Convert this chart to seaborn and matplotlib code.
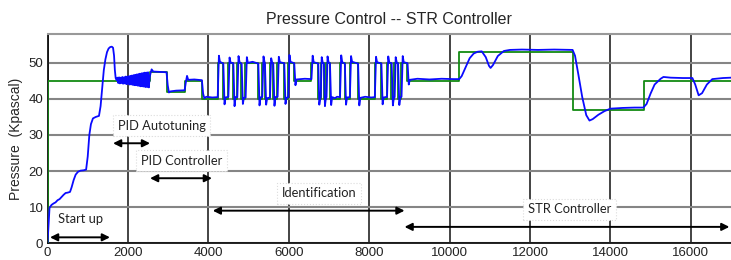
import matplotlib
matplotlib.use("Agg")
import matplotlib.pyplot as plt
import seaborn as sns
import pandas as pd

# ---------------- data ----------------
# measured pressure (blue)
startup_t = [0, 20, 50, 100, 150, 200, 250, 300, 350, 400, 450, 500, 560, 600, 650, 700, 760, 820, 900, 960,
             1000, 1040, 1080, 1130, 1200, 1280, 1320, 1360, 1400, 1440, 1480, 1520, 1560, 1600, 1630, 1655,
             1675, 1695, 1720]
startup_y = [0, 4, 9.8, 10.6, 11.0, 11.3, 11.9, 12.2, 12.8, 13.4, 13.9, 14.0, 14.2, 15.5, 17.5, 19.0, 19.8,
             20.1, 20.2, 20.4, 24, 30, 33, 34.6, 35.0, 35.3, 38, 43, 48, 51, 53, 54, 54.4, 54.5, 54.2, 52,
             48, 45.8, 45.2]

autotune_t = [1740, 1760, 1780, 1800, 1820, 1840, 1860, 1880, 1900, 1920, 1940, 1960, 1980, 2000, 2020,
              2040, 2060, 2080, 2100, 2120, 2140, 2160, 2180, 2200, 2220, 2240, 2260, 2280, 2300, 2320,
              2340, 2360, 2380, 2400, 2420, 2440, 2460, 2480, 2500, 2520, 2540]
autotune_y = [45.9, 44.4, 46.0, 44.3, 45.9, 44.4, 46.1, 44.2, 46.0, 44.3, 46.2, 44.1, 46.2, 44.2, 46.3,
              44.0, 46.4, 44.0, 46.5, 43.9, 46.6, 43.8, 46.7, 43.8, 46.8, 43.7, 46.9, 43.6, 47.0, 43.5,
              47.1, 43.5, 47.2, 43.4, 47.3, 43.3, 47.3, 43.3, 47.4, 43.2, 46.0]

pid_t = [2560, 2590, 2630, 2800, 2960, 2990, 3020, 3060, 3200, 3410, 3440, 3470, 3500, 3650, 3840, 3870,
         3900, 3950, 4100, 4222]
pid_y = [47.0, 48.2, 47.6, 47.5, 47.4, 43.8, 41.8, 42.1, 42.3, 42.4, 44.6, 46.4, 45.3, 45.4, 45.2, 41.5,
         40.2, 40.6, 40.4, 40.5]

ident_t = [4233, 4263, 4288, 4373, 4403, 4428, 4498, 4528, 4553, 4622, 4652, 4677, 4721, 4751, 4776,
           4829, 4859, 4884, 4928, 4958, 4983, 5100, 5243, 5273, 5298, 5342, 5372, 5397, 5408, 5438,
           5463, 5533, 5563, 5588, 5615, 5645, 5670, 5723, 5753, 5778, 5889, 5919, 5944, 5988, 6018,
           6043, 6137, 6167, 6192, 6400, 6555, 6565, 6595, 6620,
           6735, 6760, 6785, 6795, 6820, 6845, 6875, 6900, 6925, 6940, 6965, 6990, 7025, 7055, 7080,
           7150, 7200, 7275, 7305, 7330, 7395, 7425, 7450, 7520, 7550, 7575, 7725, 7755, 7780, 7900,
           8050, 8141, 8171, 8196, 8305, 8335, 8360, 8445, 8475, 8500, 8560, 8590, 8615, 8635, 8660,
           8685, 8720, 8750, 8775, 8805, 8835, 8860, 8955, 8985, 9010]
ident_y = [40.5, 52.0, 50.3, 49.8, 38.5, 40.4, 40.6, 51.5, 50.1, 49.9, 38.0, 40.5, 40.5, 51.9, 50.2,
           49.7, 38.6, 40.3, 40.4, 51.6, 50.0, 50.3, 49.8, 38.2, 40.4, 40.6, 51.8, 50.3, 49.9, 38.4,
           40.2, 40.4, 51.3, 50.1, 49.8, 38.1, 40.5, 40.6, 51.7, 50.2, 49.9, 38.6, 40.3, 40.5, 52.2,
           50.3, 49.9, 43.8, 45.4, 45.6, 45.5, 45.5, 52.0, 50.2,
           49.8, 38.4, 40.3, 40.5, 51.6, 50.1, 49.8, 38.0, 40.4, 40.5, 51.8, 50.2, 49.9, 38.3, 40.5,
           40.2, 40.6, 40.5, 52.1, 50.2, 49.8, 38.4, 40.4, 40.5, 51.9, 50.3, 49.8, 38.2, 40.3, 40.6,
           40.4, 40.5, 51.7, 50.2, 49.8, 38.5, 40.4, 40.6, 51.8, 50.1, 49.9, 38.2, 40.4, 40.5, 51.6,
           50.2, 49.8, 38.3, 40.5, 40.6, 51.9, 50.2, 49.9, 44.0, 45.3]

str_t = [9200, 9500, 9800, 10100, 10240, 10300, 10400, 10500, 10600, 10700, 10800, 10900, 10980, 11020,
         11080, 11200, 11350, 11500, 11800, 12200, 12600, 13000, 13060, 13120, 13200, 13300, 13400, 13480,
         13560, 13700, 13850, 14000, 14300, 14600, 14820, 14900, 15000, 15100, 15250, 15320, 15500, 15800,
         16040, 16110, 16195, 16280, 16400, 16535, 16800, 17000]
str_y = [45.6, 45.4, 45.6, 45.5, 45.5, 46.3, 48.8, 51.3, 52.6, 53.1, 53.2, 51.6, 49.2, 48.6,
         49.4, 51.9, 53.3, 53.6, 53.7, 53.6, 53.7, 53.6, 53.6, 52.0, 47.0, 40.5, 35.5, 34.0,
         34.4, 35.6, 36.6, 37.3, 37.5, 37.6, 37.6, 38.6, 41.5, 44.0, 45.6, 46.1, 45.9, 45.8,
         45.8, 44.0, 41.0, 41.6, 44.0, 45.5, 45.8, 45.9]

# setpoint (green)
sp_t = [0, 0, 2550, 2970, 3420, 3850,
        4228, 4368, 4493, 4617, 4716, 4824, 4923, 5238, 5337, 5403, 5528, 5610, 5718, 5884, 5983,
        6132, 6560, 6730, 6790, 6870, 6935, 7020, 7270, 7390, 7515,
        7720, 8136, 8300, 8440, 8555, 8630, 8715, 8800, 8950, 10230, 13064, 14828, 17000]
sp_y = [0, 45, 47.5, 42, 45, 40,
        50, 40, 50, 40, 50, 40, 50, 40, 50, 40, 50, 40, 50, 40, 50,
        45, 50, 40, 50, 40, 50, 40, 50, 40, 50,
        40, 50, 40, 50, 40, 50, 40, 50, 45, 53, 37, 45, 45]

# phase annotations: label, label x, label y, arrow start, arrow end, arrow y
phase_labels = ["Start up", "PID Autotuning", "PID Controller", "Identification", "STR Controller"]
label_x = [808, 2845, 3330, 6745, 12980]
label_y = [6.6, 32.5, 22.9, 13.8, 9.4]
arrow_x0 = [62, 1630, 2550, 4110, 8880]
arrow_x1 = [1553, 2550, 4090, 8880, 16960]
arrow_y = [1.6, 27.7, 18.0, 9.0, 4.5]
label_box = [False, True, True, True, True]

xticks = [0, 2000, 4000, 6000, 8000, 10000, 12000, 14000, 16000]
yticks = [0, 10, 20, 30, 40, 50]

# ---------------- figure ----------------
sns.set_style("white")
plt.rcParams["font.family"] = ["Liberation Sans", "DejaVu Sans"]

pv = pd.DataFrame({"t": startup_t + autotune_t + pid_t + ident_t + str_t,
                   "p": startup_y + autotune_y + pid_y + ident_y + str_y})
sp = pd.DataFrame({"t": sp_t, "p": sp_y})

fig = plt.figure(figsize=(7.31, 2.60), dpi=100)
ax = fig.add_axes([0.065, 0.065, 0.935, 0.804])

sns.lineplot(data=sp, x="t", y="p", ax=ax, estimator=None, sort=False, color="#138a13",
             linewidth=1.3, drawstyle="steps-post", zorder=3)
sns.lineplot(data=pv, x="t", y="p", ax=ax, estimator=None, sort=False, color="#0a0aff",
             linewidth=1.3, zorder=4)

ax.set_xlim(0, 17000)
ax.set_ylim(0, 58)
ax.set_xticks(xticks)
ax.set_yticks(yticks)
ax.set_xticklabels([str(v) for v in xticks])
ax.set_yticklabels([str(v) for v in yticks])
ax.tick_params(axis="both", length=0, labelsize=9.5, pad=3, colors="#222222")

ax.xaxis.grid(True, color="#111111", linewidth=1.1)
ax.yaxis.grid(True, color="#858585", linewidth=1.5)
ax.set_axisbelow(True)
for side in ["left", "bottom"]:
    ax.spines[side].set_color("#111111")
    ax.spines[side].set_linewidth(1.3)
ax.spines["top"].set_color("#999999")
ax.spines["top"].set_linewidth(1.5)
ax.spines["right"].set_visible(False)

ax.set_xlabel("")
ax.set_ylabel("Pressure  (Kpascal)", fontsize=10, labelpad=4)
ax.set_title("Pressure Control -- STR Controller", fontsize=11.5, pad=7)

for lab, lx, ly, x0, x1, ay, box in zip(phase_labels, label_x, label_y, arrow_x0, arrow_x1, arrow_y, label_box):
    bbox = None
    if box:
        bbox = dict(boxstyle="square,pad=0.35", facecolor="white", edgecolor="#dcdcdc",
                    linestyle=":", linewidth=0.8)
    ax.text(lx, ly, lab, ha="center", va="center", fontsize=9.3, color="#222222",
            family=["Lato", "DejaVu Sans"], bbox=bbox, zorder=5)
    ax.annotate("", xy=(x1, ay), xytext=(x0, ay),
                arrowprops=dict(arrowstyle="<|-|>", color="black", lw=1.4,
                                mutation_scale=11, shrinkA=0, shrinkB=0), zorder=6)

fig.savefig("out.png", dpi=100)
